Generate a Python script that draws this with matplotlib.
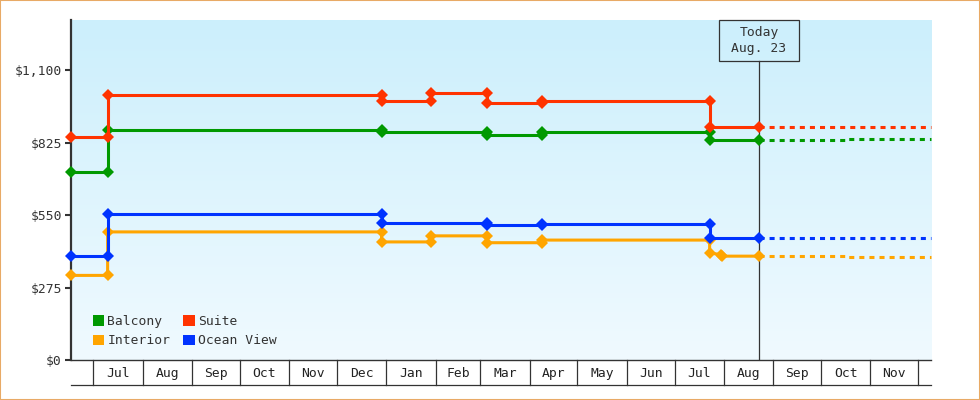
import matplotlib
matplotlib.use('Agg')
import matplotlib.pyplot as plt
import matplotlib.dates as mdates
import matplotlib.transforms as mtrans
from matplotlib.patches import Rectangle, Patch
from matplotlib.ticker import FuncFormatter, FixedLocator
import numpy as np
import datetime as dt

plt.rcParams['font.family'] = ['DejaVu Sans Mono', 'DejaVu Sans']

# ---------------- data ----------------
series_names = ['Balcony', 'Suite', 'Interior', 'Ocean View']
series_colors = ['#009900', '#ff3300', '#ffa500', '#0033ff']

balcony_dates = ['2024-06-17', '2024-07-10', '2024-07-10', '2024-12-29', '2024-12-29',
                 '2025-03-05', '2025-03-05', '2025-04-09', '2025-04-09', '2025-07-23',
                 '2025-07-23', '2025-08-23']
balcony_values = [713, 713, 872, 872, 865, 865, 853, 853, 865, 865, 834, 834]
balcony_fc_dates = ['2025-08-23', '2025-10-18', '2025-10-18', '2025-12-09']
balcony_fc_values = [834, 834, 839, 839]

suite_dates = ['2024-06-17', '2024-07-10', '2024-07-10', '2024-12-29', '2024-12-29',
               '2025-01-29', '2025-01-29', '2025-03-05', '2025-03-05', '2025-04-09',
               '2025-04-09', '2025-07-23', '2025-07-23', '2025-08-23']
suite_values = [846, 846, 1005, 1005, 982, 982, 1014, 1014, 975, 975, 982, 982, 884, 884]
suite_fc_dates = ['2025-08-23', '2025-12-09']
suite_fc_values = [884, 884]

interior_dates = ['2024-06-17', '2024-07-10', '2024-07-10', '2024-12-29', '2024-12-29',
                  '2025-01-29', '2025-01-29', '2025-03-05', '2025-03-05', '2025-04-09',
                  '2025-04-09', '2025-07-23', '2025-07-23', '2025-07-30', '2025-07-31',
                  '2025-08-23']
interior_values = [321, 321, 486, 486, 448, 448, 471, 471, 445, 445, 455, 455, 406, 400, 394, 394]
interior_fc_dates = ['2025-08-23', '2025-10-18', '2025-10-18', '2025-12-09']
interior_fc_values = [394, 394, 390, 390]

ocean_dates = ['2024-06-17', '2024-07-10', '2024-07-10', '2024-12-29', '2024-12-29',
               '2025-03-05', '2025-03-05', '2025-04-09', '2025-04-09', '2025-07-23',
               '2025-07-23', '2025-08-23']
ocean_values = [393, 393, 554, 554, 520, 520, 511, 511, 517, 517, 463, 463]
ocean_fc_dates = ['2025-08-23', '2025-12-09']
ocean_fc_values = [463, 463]

today = dt.date(2025, 8, 23)
x_start = dt.date(2024, 6, 17)
x_end = dt.date(2025, 12, 9)

y_ticks = [0, 275, 550, 825, 1100]
y_max = 1290

month_starts = ['2024-07-01', '2024-08-01', '2024-09-01', '2024-10-01', '2024-11-01',
                '2024-12-01', '2025-01-01', '2025-02-01', '2025-03-01', '2025-04-01',
                '2025-05-01', '2025-06-01', '2025-07-01', '2025-08-01', '2025-09-01',
                '2025-10-01', '2025-11-01', '2025-12-01']
month_labels = ['Jul', 'Aug', 'Sep', 'Oct', 'Nov', 'Dec', 'Jan', 'Feb', 'Mar', 'Apr',
                'May', 'Jun', 'Jul', 'Aug', 'Sep', 'Oct', 'Nov']

# ---------------- figure ----------------
W, H = 980, 400
fig = plt.figure(figsize=(W / 100, H / 100), dpi=100)
fig.patch.set_facecolor('white')

L, R, T, B = 71, 931, 20, 360
ax = fig.add_axes([L / W, 1 - B / H, (R - L) / W, (B - T) / H])

def to_num(ds):
    return mdates.date2num([np.datetime64(d) for d in ds])

ax.set_xlim(mdates.date2num(np.datetime64(x_start)), mdates.date2num(np.datetime64(x_end)))
ax.set_ylim(0, y_max)

# gradient background
top_c = np.array([204, 239, 252]) / 255
bot_c = np.array([240, 250, 255]) / 255
grad = np.linspace(0, 1, 256)[:, None]
img = top_c[None, None, :] * (1 - grad[..., None]) + bot_c[None, None, :] * grad[..., None]
ax.imshow(img, extent=[0, 1, 0, 1], transform=ax.transAxes, aspect='auto', zorder=0,
          interpolation='bilinear')
ax.set_facecolor('none')

axis_c = '#333333'
lw = 2.2
groups = [
    (balcony_dates, balcony_values, balcony_fc_dates, balcony_fc_values, series_colors[0]),
    (interior_dates, interior_values, interior_fc_dates, interior_fc_values, series_colors[2]),
    (ocean_dates, ocean_values, ocean_fc_dates, ocean_fc_values, series_colors[3]),
    (suite_dates, suite_values, suite_fc_dates, suite_fc_values, series_colors[1]),
]
for d, v, fd, fv, c in groups:
    ax.plot(to_num(fd), fv, color=c, lw=lw, linestyle=(0, (1.65, 1.65)),
            solid_capstyle='butt', dash_capstyle='butt', zorder=3, clip_on=False)
    ax.plot(to_num(d), v, color=c, lw=lw, marker='D', markersize=6.4,
            markeredgewidth=0, zorder=4, clip_on=False)

# today line & box
tnum = mdates.date2num(np.datetime64(today))
box_top, box_bot = 20, 61
ax.axvline(tnum, ymin=0, ymax=(B - box_bot) / (B - T), color=axis_c, lw=0.9, zorder=2)
fig.canvas.draw()
tx = ax.transData.transform((tnum, 0))[0]
bw = 80
fig.add_artist(Rectangle(((tx - bw / 2) / W, 1 - box_bot / H), bw / W, (box_bot - box_top) / H,
                         transform=fig.transFigure, facecolor='none', edgecolor=axis_c, lw=0.9))
fig.text(tx / W, 1 - (box_top + box_bot) / 2 / H - 0.001,
         f"Today\n{today:%b}. {today.day}", ha='center', va='center',
         fontsize=9.4, color=axis_c, linespacing=1.3)

# y axis
ax.yaxis.set_major_locator(FixedLocator(y_ticks))
ax.yaxis.set_major_formatter(FuncFormatter(lambda v, p: f"${v:,.0f}"))
ax.tick_params(axis='y', length=4, width=1.5, color=axis_c, labelcolor=axis_c,
               labelsize=9.4, pad=2.5)
ax.set_xticks([])
for s in ['top', 'right']:
    ax.spines[s].set_visible(False)
ax.spines['left'].set_color(axis_c)
ax.spines['left'].set_linewidth(1.6)
ax.spines['bottom'].set_color(axis_c)
ax.spines['bottom'].set_linewidth(1.0)

# month cells under axis
cell_h = 25 / (B - T)
trans = mtrans.blended_transform_factory(ax.transData, ax.transAxes)
ms = to_num(month_starts)
for b in ms:
    ax.plot([b, b], [0, -cell_h], transform=trans, color=axis_c, lw=0.9, clip_on=False)
ax.plot([0, 1], [-cell_h, -cell_h], transform=ax.transAxes, color=axis_c, lw=0.9,
        clip_on=False)
for i, lab in enumerate(month_labels):
    ax.text((ms[i] + ms[i + 1]) / 2, -cell_h / 2 - 0.003, lab, transform=trans,
            ha='center', va='center', fontsize=9.4, color='#222222')

# legend
handles = [Patch(facecolor=series_colors[i], edgecolor='none') for i in [0, 2, 1, 3]]
labels = [series_names[i] for i in [0, 2, 1, 3]]
leg = ax.legend(handles, labels, ncol=2, loc='lower left',
                bbox_to_anchor=((93 - L) / (R - L), (B - 347.5) / (B - T)),
                frameon=False, fontsize=9.4, handlelength=0.85, handleheight=0.85,
                handletextpad=0.25, columnspacing=1.0, labelspacing=0.5,
                borderpad=0, borderaxespad=0)
for t in leg.get_texts():
    t.set_color(axis_c)

# outer border
fig.add_artist(Rectangle((0, 0), 1, 1, transform=fig.transFigure, facecolor='none',
                         edgecolor='#e8aa66', lw=1.5))

fig.savefig('out.png', dpi=100)
